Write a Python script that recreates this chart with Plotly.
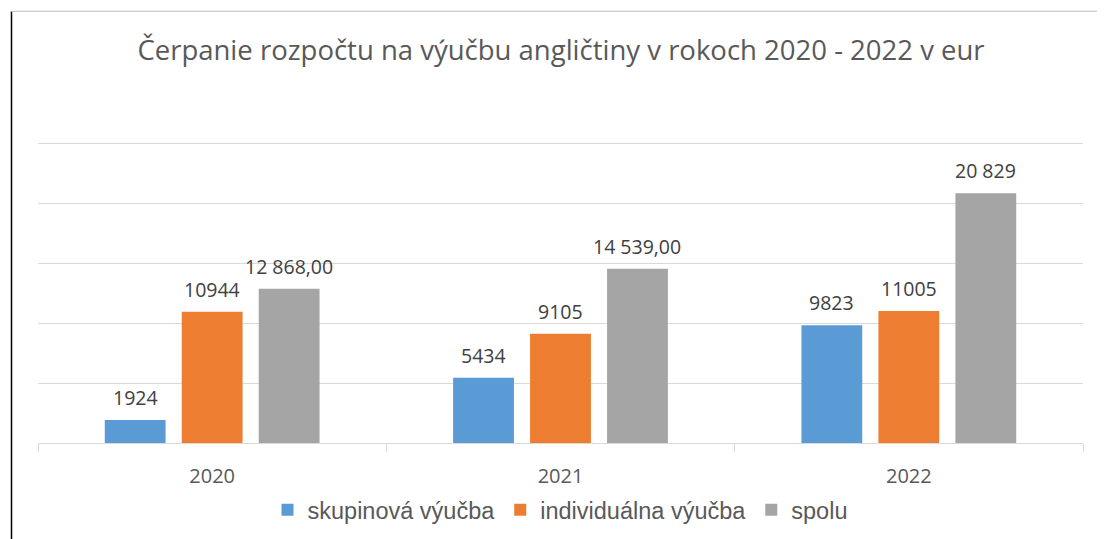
import plotly.graph_objects as go

years = ["2020", "2021", "2022"]
series_names = ["skupinová výučba", "individuálna výučba", "spolu"]
skupinova = [1924, 5434, 9823]
individualna = [10944, 9105, 11005]
spolu = [12868, 14539, 20829]
labels_skupinova = ["1924", "5434", "9823"]
labels_individualna = ["10944", "9105", "11005"]
labels_spolu = ["12 868,00", "14 539,00", "20 829"]
colors = ["#5b9bd5", "#ed7d31", "#a5a5a5"]
y_ticks = [0, 5000, 10000, 15000, 20000, 25000]

values = [skupinova, individualna, spolu]
labels = [labels_skupinova, labels_individualna, labels_spolu]

# page body has an 8px margin; offsets below compensate
OFF = 8
W, H = 1105, 539
plot_left, plot_right = 38 - OFF, 1083 - OFF
plot_bottom = 443 - OFF
top25k = 143 - OFF
ymax = 25100
plot_h = (plot_bottom - top25k) * ymax / 25000
plot_top = plot_bottom - plot_h
plot_w = plot_right - plot_left

def px(xpix):
    return (xpix - OFF - plot_left) / plot_w

def py(ypix):
    return (plot_bottom - (ypix - OFF)) / plot_h

fig = go.Figure()
for name, vals, col in zip(series_names, values, colors):
    fig.add_trace(go.Bar(x=years, y=vals, name=name, marker=dict(color=col, line=dict(width=0))))

bargap = 0.337
slot = (1 - bargap) / 3
annotations = []
for s, (vals, labs) in enumerate(zip(values, labels)):
    for i, (v, lab) in enumerate(zip(vals, labs)):
        annotations.append(dict(
            x=i + (s - 1) * slot, y=v, xref="x", yref="y", text=lab,
            showarrow=False, yanchor="bottom", yshift=7,
            font=dict(family="Open Sans", size=19.5, color="#404040")))

fig.update_layout(
    width=W, height=H,
    margin=dict(l=plot_left, r=W - plot_right, t=plot_top, b=H - plot_bottom, autoexpand=False),
    paper_bgcolor="white", plot_bgcolor="white",
    barmode="group", bargap=bargap, bargroupgap=0.21,
    title=dict(text="Čerpanie rozpočtu na výučbu angličtiny v rokoch 2020 - 2022 v eur",
               x=(561 - OFF) / W, xanchor="center", y=1 - (50 - OFF) / H, yref="container", yanchor="middle",
               font=dict(family="Open Sans", size=27.5, color="#595959")),
    legend=dict(orientation="h", x=px(560), xanchor="center", y=py(510), yanchor="middle",
                font=dict(family="Liberation Sans", size=23.5, color="#595959"),
                itemwidth=30, traceorder="normal", bgcolor="rgba(0,0,0,0)"),
    xaxis=dict(type="category", tickson="boundaries", ticks="outside", ticklen=8,
               tickcolor="#d9d9d9", showline=True, linecolor="#d9d9d9", linewidth=1,
               showgrid=False, ticklabelstandoff=15,
               tickfont=dict(family="Open Sans", size=20, color="#595959")),
    yaxis=dict(range=[0, ymax], tickvals=y_ticks, showticklabels=False,
               showgrid=True, gridcolor="#d9d9d9", gridwidth=1, zeroline=False, showline=False),
    annotations=annotations,
    shapes=[
        dict(type="line", xref="paper", yref="paper", x0=px(11.5), x1=px(11.5),
             y0=py(11), y1=py(560), line=dict(color="#000000", width=1.5)),
        dict(type="line", xref="paper", yref="paper", x0=px(11), x1=px(1120),
             y0=py(11), y1=py(11), line=dict(color="#bfbfbf", width=1)),
    ],
)

fig.write_html("out.html")
